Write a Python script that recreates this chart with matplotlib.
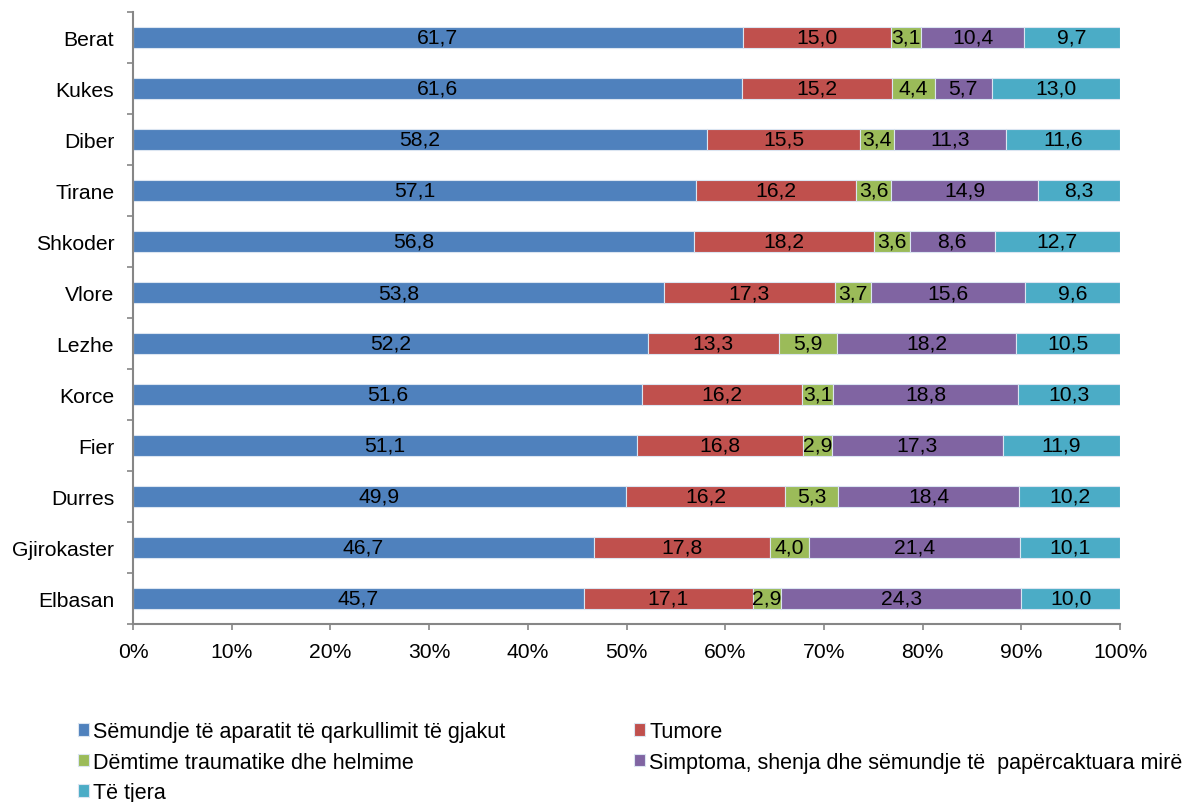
#!/usr/bin/env python3
"""Struktura e shkaqeve te vdekjeve sipas qarqeve (100% stacked bar)."""

import matplotlib

matplotlib.use("Agg")
import matplotlib.pyplot as plt  # noqa: E402
import numpy as np  # noqa: E402
from matplotlib.ticker import FixedLocator, PercentFormatter  # noqa: E402

plt.rcParams["font.family"] = ["Liberation Sans", "DejaVu Sans"]

REGIONS = ["Berat", "Kukes", "Diber", "Tirane", "Shkoder", "Vlore",
           "Lezhe", "Korce", "Fier", "Durres", "Gjirokaster", "Elbasan"]

SERIES = [
    "Sëmundje të aparatit të qarkullimit të gjakut",
    "Tumore",
    "Dëmtime traumatike dhe helmime",
    "Simptoma, shenja dhe sëmundje të  papërcaktuara mirë",
    "Të tjera",
]

circulatory = [61.7, 61.6, 58.2, 57.1, 56.8, 53.8, 52.2, 51.6, 51.1, 49.9, 46.7, 45.7]
tumors = [15.0, 15.2, 15.5, 16.2, 18.2, 17.3, 13.3, 16.2, 16.8, 16.2, 17.8, 17.1]
injuries = [3.1, 4.4, 3.4, 3.6, 3.6, 3.7, 5.9, 3.1, 2.9, 5.3, 4.0, 2.9]
symptoms = [10.4, 5.7, 11.3, 14.9, 8.6, 15.6, 18.2, 18.8, 17.3, 18.4, 21.4, 24.3]
others = [9.7, 13.0, 11.6, 8.3, 12.7, 9.6, 10.5, 10.3, 11.9, 10.2, 10.1, 10.0]

COLORS = ["#4F81BD", "#C0504D", "#9BBB59", "#8064A2", "#4BACC6"]

FONT = 15.2
LEGEND_FONT = 15.5
AXIS_GREY = "#868686"


def main() -> None:
    data = np.array([circulatory, tumors, injuries, symptoms, others])
    shares = data / data.sum(axis=0) * 100.0
    y = np.arange(len(REGIONS))

    fig = plt.figure(figsize=(11.84, 8.03), dpi=100)
    ax = fig.add_axes([133 / 1184, 1 - 625 / 803, 987 / 1184, 612 / 803])

    left = np.zeros(len(REGIONS))
    handles = []
    for values, share, name, color in zip(data, shares, SERIES, COLORS):
        bars = ax.barh(y, share, left=left, height=0.41, color=color,
                       edgecolor="#dbe5f1", linewidth=0.8, label=name)
        ax.bar_label(bars, labels=[f"{v:.1f}".replace(".", ",") for v in values],
                     label_type="center", fontsize=FONT, color="black")
        left += share
        handles.append(bars)

    ax.set_xlim(0, 100)
    ax.set_ylim(len(REGIONS) - 0.5, -0.5)
    ax.set_xticks(np.arange(0, 101, 10))
    ax.xaxis.set_major_formatter(PercentFormatter(decimals=0))
    ax.set_yticks(y, REGIONS)
    ax.yaxis.set_minor_locator(FixedLocator(np.arange(-0.5, len(REGIONS), 1.0)))

    ax.tick_params(axis="y", which="major", length=0, pad=13.5, labelsize=FONT)
    ax.tick_params(axis="y", which="minor", length=4.5, width=1.2, color=AXIS_GREY, direction="out")
    ax.tick_params(axis="x", length=4.3, width=1.2, color=AXIS_GREY, pad=8.5, labelsize=FONT)
    for side in ("top", "right"):
        ax.spines[side].set_visible(False)
    for side in ("left", "bottom"):
        ax.spines[side].set_color(AXIS_GREY)
        ax.spines[side].set_linewidth(1.5)

    # Excel orders legend entries row by row, matplotlib column by column
    order = [0, 2, 4, 1, 3]
    fig.legend([handles[i] for i in order], [SERIES[i] for i in order],
               ncol=2, loc="upper left", bbox_to_anchor=(78 / 1184, 1 - 722 / 803),
               frameon=False, fontsize=LEGEND_FONT, borderpad=0, borderaxespad=0,
               handlelength=0.52, handleheight=0.52, handletextpad=0.2,
               labelspacing=0.45, columnspacing=5.95)

    fig.savefig("out.png", dpi=100)
    plt.close(fig)


if __name__ == "__main__":
    main()
